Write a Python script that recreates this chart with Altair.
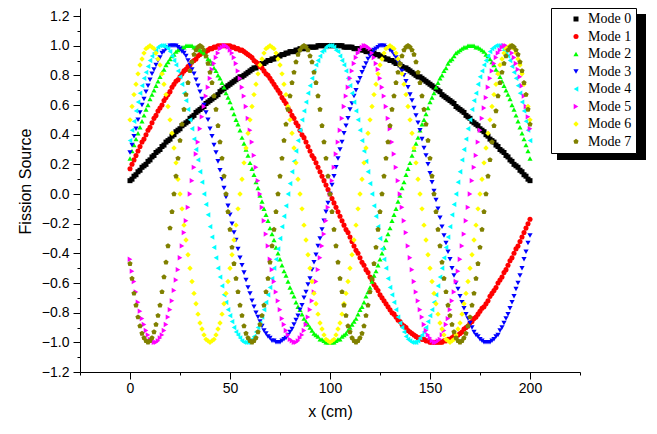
import altair as alt
import pandas as pd

# sample positions (cm)
X = list(range(0, 201))

MODE0 = [
0.09,0.10,0.12,0.13,0.15,0.16,0.18,0.19,0.20,0.22,
0.23,0.25,0.26,0.28,0.29,0.30,0.32,0.33,0.35,0.36,
0.37,0.39,0.40,0.42,0.43,0.44,0.46,0.47,0.48,0.49,
0.51,0.52,0.53,0.55,0.56,0.57,0.58,0.59,0.61,0.62,
0.63,0.64,0.65,0.66,0.67,0.69,0.70,0.71,0.72,0.73,
0.74,0.75,0.76,0.77,0.78,0.79,0.79,0.80,0.81,0.82,
0.83,0.84,0.85,0.85,0.86,0.87,0.88,0.88,0.89,0.90,
0.90,0.91,0.91,0.92,0.93,0.93,0.94,0.94,0.95,0.95,
0.96,0.96,0.96,0.97,0.97,0.98,0.98,0.98,0.98,0.99,
0.99,0.99,0.99,0.99,1.00,1.00,1.00,1.00,1.00,1.00,
1.00,
1.00,1.00,1.00,1.00,1.00,1.00,0.99,0.99,0.99,0.99,
0.99,0.98,0.98,0.98,0.98,0.97,0.97,0.96,0.96,0.96,
0.95,0.95,0.94,0.94,0.93,0.93,0.92,0.91,0.91,0.90,
0.90,0.89,0.88,0.88,0.87,0.86,0.85,0.85,0.84,0.83,
0.82,0.81,0.80,0.79,0.79,0.78,0.77,0.76,0.75,0.74,
0.73,0.72,0.71,0.70,0.69,0.67,0.66,0.65,0.64,0.63,
0.62,0.61,0.59,0.58,0.57,0.56,0.55,0.53,0.52,0.51,
0.49,0.48,0.47,0.46,0.44,0.43,0.42,0.40,0.39,0.37,
0.36,0.35,0.33,0.32,0.30,0.29,0.28,0.26,0.25,0.23,
0.22,0.20,0.19,0.18,0.16,0.15,0.13,0.12,0.10,0.09]

MODE1 = [
0.17,0.20,0.23,0.26,0.29,0.32,0.35,0.37,0.40,0.43,
0.45,0.48,0.51,0.53,0.56,0.58,0.60,0.63,0.65,0.67,
0.69,0.72,0.74,0.76,0.77,0.79,0.81,0.83,0.84,0.86,
0.87,0.89,0.90,0.91,0.93,0.94,0.95,0.96,0.96,0.97,
0.98,0.98,0.99,0.99,1.00,1.00,1.00,1.00,1.00,1.00,
1.00,0.99,0.99,0.98,0.98,0.97,0.97,0.96,0.95,0.94,
0.93,0.92,0.90,0.89,0.88,0.86,0.85,0.83,0.81,0.80,
0.78,0.76,0.74,0.72,0.70,0.68,0.65,0.63,0.61,0.58,
0.56,0.53,0.51,0.48,0.46,0.43,0.40,0.38,0.35,0.32,
0.29,0.26,0.24,0.21,0.18,0.15,0.12,0.09,0.06,0.03,
0.00,
-0.03,-0.06,-0.09,-0.12,-0.15,-0.18,-0.21,-0.24,-0.26,-0.29,
-0.32,-0.35,-0.38,-0.40,-0.43,-0.46,-0.48,-0.51,-0.53,-0.56,
-0.58,-0.61,-0.63,-0.65,-0.68,-0.70,-0.72,-0.74,-0.76,-0.78,
-0.80,-0.81,-0.83,-0.85,-0.86,-0.88,-0.89,-0.90,-0.92,-0.93,
-0.94,-0.95,-0.96,-0.97,-0.97,-0.98,-0.98,-0.99,-0.99,-1.00,
-1.00,-1.00,-1.00,-1.00,-1.00,-1.00,-0.99,-0.99,-0.98,-0.98,
-0.97,-0.96,-0.96,-0.95,-0.94,-0.93,-0.91,-0.90,-0.89,-0.87,
-0.86,-0.84,-0.83,-0.81,-0.79,-0.77,-0.76,-0.74,-0.72,-0.69,
-0.67,-0.65,-0.63,-0.60,-0.58,-0.56,-0.53,-0.51,-0.48,-0.45,
-0.43,-0.40,-0.37,-0.35,-0.32,-0.29,-0.26,-0.23,-0.20,-0.17]

MODE2 = [
0.24,0.29,0.33,0.37,0.41,0.45,0.49,0.53,0.57,0.60,
0.64,0.67,0.70,0.73,0.76,0.79,0.82,0.84,0.87,0.89,
0.91,0.93,0.94,0.96,0.97,0.98,0.99,0.99,1.00,1.00,
1.00,1.00,0.99,0.99,0.98,0.97,0.96,0.95,0.93,0.91,
0.90,0.88,0.85,0.83,0.80,0.78,0.75,0.72,0.68,0.65,
0.62,0.58,0.54,0.50,0.47,0.43,0.38,0.34,0.30,0.26,
0.21,0.17,0.13,0.08,0.04,-0.01,-0.05,-0.10,-0.14,-0.18,
-0.23,-0.27,-0.31,-0.36,-0.40,-0.44,-0.48,-0.52,-0.55,-0.59,
-0.63,-0.66,-0.69,-0.73,-0.76,-0.78,-0.81,-0.84,-0.86,-0.88,
-0.90,-0.92,-0.94,-0.95,-0.96,-0.98,-0.98,-0.99,-1.00,-1.00,
-1.00,
-1.00,-1.00,-0.99,-0.98,-0.98,-0.96,-0.95,-0.94,-0.92,-0.90,
-0.88,-0.86,-0.84,-0.81,-0.78,-0.76,-0.73,-0.69,-0.66,-0.63,
-0.59,-0.55,-0.52,-0.48,-0.44,-0.40,-0.36,-0.31,-0.27,-0.23,
-0.18,-0.14,-0.10,-0.05,-0.01,0.04,0.08,0.13,0.17,0.21,
0.26,0.30,0.34,0.38,0.43,0.47,0.50,0.54,0.58,0.62,
0.65,0.68,0.72,0.75,0.78,0.80,0.83,0.85,0.88,0.90,
0.91,0.93,0.95,0.96,0.97,0.98,0.99,0.99,1.00,1.00,
1.00,1.00,0.99,0.99,0.98,0.97,0.96,0.94,0.93,0.91,
0.89,0.87,0.84,0.82,0.79,0.76,0.73,0.70,0.67,0.64,
0.60,0.57,0.53,0.49,0.45,0.41,0.37,0.33,0.29,0.24]

MODE3 = [
0.28,0.33,0.39,0.44,0.50,0.55,0.60,0.64,0.69,0.73,
0.77,0.81,0.84,0.87,0.90,0.92,0.95,0.96,0.98,0.99,
1.00,1.00,1.00,1.00,0.99,0.98,0.96,0.95,0.93,0.90,
0.87,0.84,0.81,0.77,0.73,0.69,0.64,0.60,0.55,0.50,
0.44,0.39,0.33,0.28,0.22,0.16,0.10,0.04,-0.02,-0.08,
-0.14,-0.20,-0.26,-0.31,-0.37,-0.43,-0.48,-0.53,-0.58,-0.63,
-0.67,-0.72,-0.76,-0.80,-0.83,-0.86,-0.89,-0.92,-0.94,-0.96,
-0.97,-0.99,-0.99,-1.00,-1.00,-1.00,-0.99,-0.98,-0.97,-0.95,
-0.93,-0.91,-0.88,-0.85,-0.82,-0.78,-0.75,-0.70,-0.66,-0.61,
-0.57,-0.51,-0.46,-0.41,-0.35,-0.30,-0.24,-0.18,-0.12,-0.06,
0.00,
0.06,0.12,0.18,0.24,0.30,0.35,0.41,0.46,0.51,0.57,
0.61,0.66,0.70,0.75,0.78,0.82,0.85,0.88,0.91,0.93,
0.95,0.97,0.98,0.99,1.00,1.00,1.00,0.99,0.99,0.97,
0.96,0.94,0.92,0.89,0.86,0.83,0.80,0.76,0.72,0.67,
0.63,0.58,0.53,0.48,0.43,0.37,0.31,0.26,0.20,0.14,
0.08,0.02,-0.04,-0.10,-0.16,-0.22,-0.28,-0.33,-0.39,-0.44,
-0.50,-0.55,-0.60,-0.64,-0.69,-0.73,-0.77,-0.81,-0.84,-0.87,
-0.90,-0.93,-0.95,-0.96,-0.98,-0.99,-1.00,-1.00,-1.00,-1.00,
-0.99,-0.98,-0.96,-0.95,-0.92,-0.90,-0.87,-0.84,-0.81,-0.77,
-0.73,-0.69,-0.64,-0.60,-0.55,-0.50,-0.44,-0.39,-0.33,-0.28]

MODE4 = [
0.36,0.43,0.49,0.56,0.62,0.68,0.73,0.78,0.82,0.86,
0.90,0.93,0.95,0.97,0.99,1.00,1.00,1.00,0.99,0.98,
0.96,0.93,0.90,0.87,0.83,0.79,0.74,0.68,0.63,0.57,
0.50,0.44,0.37,0.30,0.23,0.15,0.08,0.00,-0.07,-0.14,
-0.22,-0.29,-0.36,-0.43,-0.50,-0.56,-0.62,-0.68,-0.73,-0.78,
-0.82,-0.86,-0.90,-0.93,-0.95,-0.97,-0.99,-1.00,-1.00,-1.00,
-0.99,-0.98,-0.96,-0.93,-0.90,-0.87,-0.83,-0.78,-0.73,-0.68,
-0.63,-0.57,-0.50,-0.44,-0.37,-0.30,-0.22,-0.15,-0.08,0.00,
0.07,0.15,0.22,0.29,0.36,0.43,0.50,0.56,0.62,0.68,
0.73,0.78,0.83,0.87,0.90,0.93,0.96,0.97,0.99,1.00,
1.00,
1.00,0.99,0.97,0.96,0.93,0.90,0.87,0.83,0.78,0.73,
0.68,0.62,0.56,0.50,0.43,0.36,0.29,0.22,0.15,0.07,
0.00,-0.08,-0.15,-0.22,-0.30,-0.37,-0.44,-0.50,-0.57,-0.63,
-0.68,-0.73,-0.78,-0.83,-0.87,-0.90,-0.93,-0.96,-0.98,-0.99,
-1.00,-1.00,-1.00,-0.99,-0.97,-0.95,-0.93,-0.90,-0.86,-0.82,
-0.78,-0.73,-0.68,-0.62,-0.56,-0.50,-0.43,-0.36,-0.29,-0.22,
-0.14,-0.07,0.00,0.08,0.15,0.23,0.30,0.37,0.44,0.50,
0.57,0.63,0.68,0.74,0.79,0.83,0.87,0.90,0.93,0.96,
0.98,0.99,1.00,1.00,1.00,0.99,0.97,0.95,0.93,0.90,
0.86,0.82,0.78,0.73,0.68,0.62,0.56,0.49,0.43,0.36]

MODE5 = [
-0.44,-0.52,-0.59,-0.66,-0.73,-0.79,-0.84,-0.88,-0.92,-0.95,
-0.98,-0.99,-1.00,-1.00,-0.99,-0.97,-0.95,-0.92,-0.88,-0.83,
-0.78,-0.72,-0.65,-0.58,-0.51,-0.43,-0.35,-0.26,-0.18,-0.09,
0.00,0.09,0.18,0.27,0.35,0.44,0.52,0.59,0.66,0.72,
0.78,0.84,0.88,0.92,0.95,0.98,0.99,1.00,1.00,0.99,
0.97,0.95,0.92,0.88,0.83,0.78,0.72,0.66,0.59,0.51,
0.43,0.35,0.26,0.18,0.09,0.00,-0.09,-0.18,-0.27,-0.35,
-0.44,-0.51,-0.59,-0.66,-0.72,-0.78,-0.84,-0.88,-0.92,-0.95,
-0.98,-0.99,-1.00,-1.00,-0.99,-0.97,-0.95,-0.92,-0.88,-0.83,
-0.78,-0.72,-0.66,-0.59,-0.51,-0.43,-0.35,-0.27,-0.18,-0.09,
0.00,
0.09,0.18,0.27,0.35,0.43,0.51,0.59,0.66,0.72,0.78,
0.83,0.88,0.92,0.95,0.97,0.99,1.00,1.00,0.99,0.98,
0.95,0.92,0.88,0.84,0.78,0.72,0.66,0.59,0.51,0.44,
0.35,0.27,0.18,0.09,0.00,-0.09,-0.18,-0.26,-0.35,-0.43,
-0.51,-0.59,-0.66,-0.72,-0.78,-0.83,-0.88,-0.92,-0.95,-0.97,
-0.99,-1.00,-1.00,-0.99,-0.98,-0.95,-0.92,-0.88,-0.84,-0.78,
-0.72,-0.66,-0.59,-0.52,-0.44,-0.35,-0.27,-0.18,-0.09,0.00,
0.09,0.18,0.26,0.35,0.43,0.51,0.58,0.65,0.72,0.78,
0.83,0.88,0.92,0.95,0.97,0.99,1.00,1.00,0.99,0.98,
0.95,0.92,0.88,0.84,0.79,0.73,0.66,0.59,0.52,0.44]

MODE6 = [
0.50,0.59,0.67,0.74,0.81,0.87,0.91,0.95,0.98,0.99,1.00,
0.99,0.98,0.95,0.91,0.87,0.81,0.74,0.67,0.59,0.50,
0.41,0.31,0.21,0.10,0.00,-0.10,-0.21,-0.31,-0.41,-0.50,
-0.59,-0.67,-0.74,-0.81,-0.87,-0.91,-0.95,-0.98,-0.99,-1.00,
-0.99,-0.98,-0.95,-0.91,-0.87,-0.81,-0.74,-0.67,-0.59,-0.50,
-0.41,-0.31,-0.21,-0.10,0.00,0.10,0.21,0.31,0.41,0.50,
0.59,0.67,0.74,0.81,0.87,0.91,0.95,0.98,0.99,1.00,
0.99,0.98,0.95,0.91,0.87,0.81,0.74,0.67,0.59,0.50,
0.41,0.31,0.21,0.10,0.00,-0.10,-0.21,-0.31,-0.41,-0.50,
-0.59,-0.67,-0.74,-0.81,-0.87,-0.91,-0.95,-0.98,-0.99,-1.00,
-0.99,-0.98,-0.95,-0.91,-0.87,-0.81,-0.74,-0.67,-0.59,-0.50,
-0.41,-0.31,-0.21,-0.10,0.00,0.10,0.21,0.31,0.41,0.50,
0.59,0.67,0.74,0.81,0.87,0.91,0.95,0.98,0.99,1.00,
0.99,0.98,0.95,0.91,0.87,0.81,0.74,0.67,0.59,0.50,
0.41,0.31,0.21,0.10,0.00,-0.10,-0.21,-0.31,-0.41,-0.50,
-0.59,-0.67,-0.74,-0.81,-0.87,-0.91,-0.95,-0.98,-0.99,-1.00,
-0.99,-0.98,-0.95,-0.91,-0.87,-0.81,-0.74,-0.67,-0.59,-0.50,
-0.41,-0.31,-0.21,-0.10,0.00,0.10,0.21,0.31,0.41,0.50,
0.59,0.67,0.74,0.81,0.87,0.91,0.95,0.98,0.99,1.00,
0.99,0.98,0.95,0.91,0.87,0.81,0.74,0.67,0.59,0.50]

MODE7 = [
-0.47,-0.57,-0.67,-0.75,-0.83,-0.89,-0.94,-0.97,-0.99,-1.00,
-0.99,-0.97,-0.93,-0.88,-0.82,-0.75,-0.66,-0.56,-0.46,-0.35,
-0.23,-0.12,0.00,0.12,0.24,0.36,0.47,0.57,0.67,0.75,
0.83,0.89,0.94,0.97,0.99,1.00,0.99,0.97,0.93,0.88,
0.82,0.75,0.66,0.57,0.46,0.35,0.24,0.12,0.00,-0.12,
-0.24,-0.36,-0.47,-0.57,-0.66,-0.75,-0.82,-0.89,-0.94,-0.97,
-0.99,-1.00,-0.99,-0.97,-0.93,-0.88,-0.82,-0.75,-0.66,-0.57,
-0.46,-0.35,-0.24,-0.12,0.00,0.12,0.24,0.36,0.47,0.57,
0.66,0.75,0.82,0.89,0.94,0.97,0.99,1.00,0.99,0.97,
0.93,0.89,0.82,0.75,0.66,0.57,0.46,0.35,0.24,0.12,
0.00,
-0.12,-0.24,-0.35,-0.46,-0.57,-0.66,-0.75,-0.82,-0.89,-0.93,
-0.97,-0.99,-1.00,-0.99,-0.97,-0.94,-0.89,-0.82,-0.75,-0.66,
-0.57,-0.47,-0.36,-0.24,-0.12,0.00,0.12,0.24,0.35,0.46,
0.57,0.66,0.75,0.82,0.88,0.93,0.97,0.99,1.00,0.99,
0.97,0.94,0.89,0.82,0.75,0.66,0.57,0.47,0.36,0.24,
0.12,0.00,-0.12,-0.24,-0.35,-0.46,-0.57,-0.66,-0.75,-0.82,
-0.88,-0.93,-0.97,-0.99,-1.00,-0.99,-0.97,-0.94,-0.89,-0.83,
-0.75,-0.67,-0.57,-0.47,-0.36,-0.24,-0.12,0.00,0.12,0.23,
0.35,0.46,0.56,0.66,0.75,0.82,0.88,0.93,0.97,0.99,
1.00,0.99,0.97,0.94,0.89,0.83,0.75,0.67,0.57,0.47]

SERIES = ["Mode 0", "Mode 1", "Mode 2", "Mode 3", "Mode 4", "Mode 5", "Mode 6", "Mode 7"]
COLORS = ["#000000", "#FF0000", "#00FF00", "#0000FF", "#00FFFF", "#FF00FF", "#FFFF00", "#808000"]
PENTAGON = "M0,-1L0.951,-0.309L0.588,0.809L-0.588,0.809L-0.951,-0.309Z"
SHAPES = ["square", "circle", "triangle-up", "triangle-down", "triangle-left",
          "triangle-right", "diamond", PENTAGON]
SIZES = [25, 30, 40, 40, 40, 40, 49, 40]

X_MAJOR = [0, 50, 100, 150, 200]
X_MINOR = [-25, 25, 75, 125, 175, 225]
Y_MAJOR = [-1.2, -1.0, -0.8, -0.6, -0.4, -0.2, 0.0, 0.2, 0.4, 0.6, 0.8, 1.0, 1.2]
Y_MINOR = [-1.1, -0.9, -0.7, -0.5, -0.3, -0.1, 0.1, 0.3, 0.5, 0.7, 0.9, 1.1]

rows = []
for name, vals in zip(SERIES, [MODE0, MODE1, MODE2, MODE3, MODE4, MODE5, MODE6, MODE7]):
    for xv, yv in zip(X, vals):
        rows.append({"x": xv, "y": yv, "series": name})
df = pd.DataFrame(rows)

xscale = alt.Scale(domain=[-25, 225], nice=False, zero=False)
yscale = alt.Scale(domain=[-1.2, 1.254], nice=False, zero=False)

AX = dict(domainColor="black", tickColor="black", labelColor="black", titleColor="black",
          labelFont="Liberation Sans", titleFont="Liberation Sans", labelFontSize=14,
          titleFontSize=16, titleFontWeight="normal", grid=False, domainWidth=1, tickWidth=1)

legend = alt.Legend(orient="none", legendX=471, legendY=0, fillColor="white",
                    strokeColor="black", padding=4, zindex=5,
                    labelFont="Liberation Serif", labelFontSize=14, labelColor="black",
                    rowPadding=3.5, symbolOffset=14, labelOffset=5, symbolStrokeWidth=0)

points = alt.Chart(df).mark_point(filled=True, opacity=1).encode(
    x=alt.X("x:Q", scale=xscale,
            axis=alt.Axis(values=X_MAJOR, tickSize=7, labelPadding=2, title="x (cm)",
                          titlePadding=8, orient="bottom", **AX)),
    y=alt.Y("y:Q", scale=yscale,
            axis=alt.Axis(values=Y_MAJOR, format=".1f", tickSize=7, labelPadding=4,
                          title="Fission Source", titlePadding=8, titleY=173,
                          orient="left", **AX)),
    color=alt.Color("series:N", scale=alt.Scale(domain=SERIES, range=COLORS),
                    legend=legend, title=None),
    shape=alt.Shape("series:N", scale=alt.Scale(domain=SERIES, range=SHAPES), title=None),
    size=alt.Size("series:N", scale=alt.Scale(domain=SERIES, range=SIZES), title=None),
)

minor = alt.Chart(df).mark_point(opacity=0).encode(
    x=alt.X("x:Q", scale=xscale, title=None,
            axis=alt.Axis(values=X_MINOR, tickSize=3, labels=False, domain=False,
                          orient="bottom", tickColor="black", grid=False)),
    y=alt.Y("y:Q", scale=yscale, title=None,
            axis=alt.Axis(values=Y_MINOR, tickSize=3, labels=False, domain=False,
                          orient="left", tickColor="black", grid=False)),
)

# drop shadow behind the legend box, placed on the plot's own scales (no axes of its own)
shadow = alt.Chart(pd.DataFrame({"k": [0]})).mark_rect(
    fill="black", opacity=1, clip=False
).encode(
    x=alt.X(datum=213.5, scale=xscale, axis=None), x2=alt.X2(datum=258),
    y=alt.Y(datum=1.2136, scale=yscale, axis=None), y2=alt.Y2(datum=0.2293),
)

chart = alt.layer(shadow, points, minor).resolve_axis(
    x="independent", y="independent"
).properties(
    width=500, height=364,
    autosize=alt.AutoSizeParams(type="none"),
    padding={"left": 72, "top": 0, "right": 69, "bottom": 50},
    background="white",
).configure_view(strokeWidth=0)

chart.save("out.html", embed_options={"renderer": "svg", "actions": False})
